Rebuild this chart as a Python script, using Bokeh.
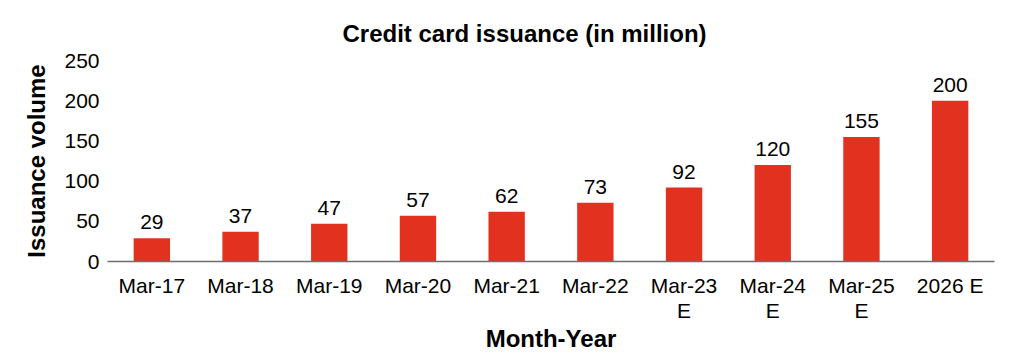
from bokeh.plotting import figure
from bokeh.models import ColumnDataSource, FactorRange, Range1d, FixedTicker
from bokeh.core.properties import value
from bokeh.embed import file_html
from bokeh.resources import INLINE

categories = ["Mar-17", "Mar-18", "Mar-19", "Mar-20", "Mar-21", "Mar-22",
              "Mar-23\nE", "Mar-24\nE", "Mar-25\nE", "2026 E"]
values = [29, 37, 47, 57, 62, 73, 92, 120, 155, 200]
y_ticks = [0, 50, 100, 150, 200, 250]

FONT = "Liberation Sans"
RED = "#E2321F"

src = ColumnDataSource(dict(cat=categories, val=values, lab=[str(v) for v in values]))

p = figure(width=1012, height=356, x_range=FactorRange(*categories),
           y_range=Range1d(0, 250), output_backend="svg", toolbar_location=None,
           min_border_left=107, min_border_right=18, min_border_top=60,
           min_border_bottom=95)

p.title.text = "Credit card issuance (in million)"
p.title.text_font = FONT
p.title.text_font_size = "24px"
p.title.text_font_style = "bold"
p.title.text_color = "#000000"
p.title.align = "left"
p.title.offset = 235
p.title.standoff = 28

p.vbar(x="cat", top="val", width=0.41, source=src, fill_color=RED, line_color=None)
p.text(x="cat", y="val", text="lab", source=src, text_align="center",
       text_baseline="alphabetic", y_offset=-16, text_font=value(FONT),
       text_font_size="21px", text_color="#000000")

p.outline_line_color = None
p.xgrid.visible = False
p.ygrid.visible = False

xa = p.xaxis[0]
xa.axis_line_color = "#6E6E6E"
xa.axis_line_width = 1.5
xa.major_tick_line_color = None
xa.minor_tick_line_color = None
xa.major_label_text_font = FONT
xa.major_label_text_font_size = "21px"
xa.major_label_text_color = "#000000"
xa.major_label_text_line_height = 1.1
xa.major_label_standoff = 6
xa.axis_label = "Month-Year"
xa.axis_label_text_font = FONT
xa.axis_label_text_font_size = "24px"
xa.axis_label_text_font_style = "bold"
xa.axis_label_text_color = "#000000"
xa.axis_label_standoff = 0

ya = p.yaxis[0]
ya.ticker = FixedTicker(ticks=y_ticks)
ya.axis_line_color = None
ya.major_tick_line_color = None
ya.minor_tick_line_color = None
ya.major_label_text_font = FONT
ya.major_label_text_font_size = "21px"
ya.major_label_text_color = "#000000"
ya.major_label_standoff = 2
ya.axis_label = "Issuance volume"
ya.axis_label_text_font = FONT
ya.axis_label_text_font_size = "24px"
ya.axis_label_text_font_style = "bold"
ya.axis_label_text_color = "#000000"
ya.axis_label_standoff = 11

open("out.html", "w").write(file_html(p, INLINE))
